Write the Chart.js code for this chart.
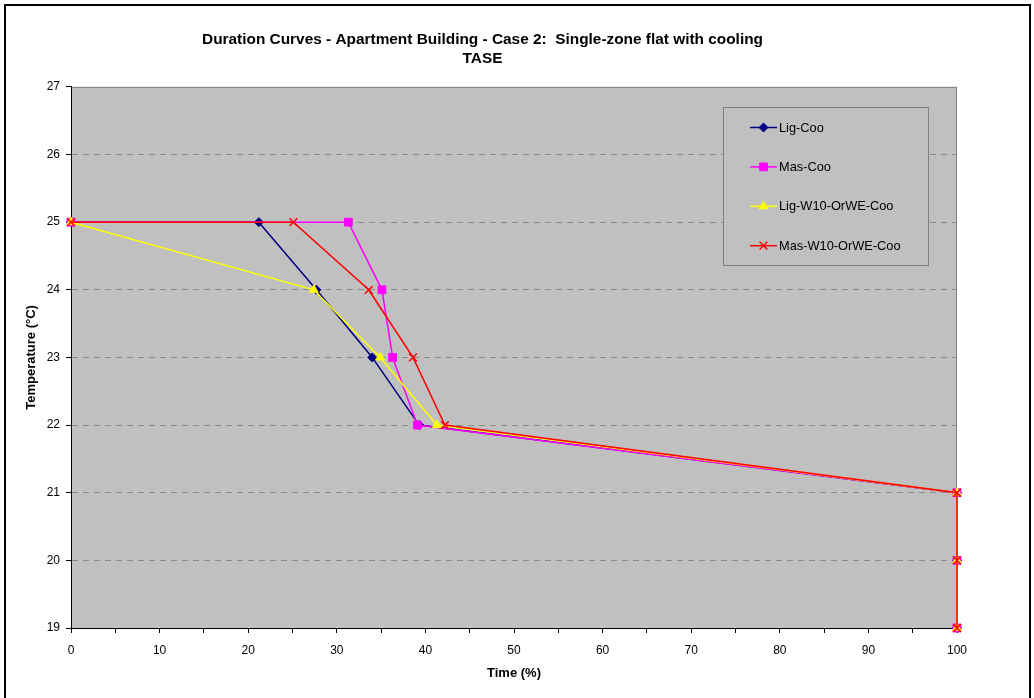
<!DOCTYPE html>
<html>
<head>
<meta charset="utf-8">
<title>Duration Curves - Apartment Building - Case 2</title>
<script src="https://cdn.jsdelivr.net/npm/chart.js@4.4.1/dist/chart.umd.min.js"></script>
<style>
  html, body { margin: 0; padding: 0; background: #fff; }
  #wrap { width: 1034px; height: 698px; position: relative; }
</style>
</head>
<body>
<div id="wrap"><canvas id="chart" width="1034" height="698"></canvas></div>
<script>
// duration curves
const SERIES_NAMES = ['Lig-Coo', 'Mas-Coo', 'Lig-W10-OrWE-Coo', 'Mas-W10-OrWE-Coo'];

const ligCooTime = [0, 21.2, 27.7, 34.0, 39.3, 100, 100, 100];
const ligCooTemp = [25, 25, 24, 23, 22, 21, 20, 19];

const masCooTime = [0, 31.3, 35.1, 36.3, 39.1, 100, 100, 100];
const masCooTemp = [25, 25, 24, 23, 22, 21, 20, 19];

const ligW10Time = [0, 27.4, 34.9, 41.3, 100, 100, 100];
const ligW10Temp = [25, 24, 23, 22, 21, 20, 19];

const masW10Time = [0, 25.1, 33.6, 38.6, 42.2, 100, 100, 100];
const masW10Temp = [25, 25, 24, 23, 22, 21, 20, 19];

const X_TICKS = [0, 10, 20, 30, 40, 50, 60, 70, 80, 90, 100];
const Y_TICKS = [19, 20, 21, 22, 23, 24, 25, 26, 27];

const FONT = "'Liberation Sans', Arial, sans-serif";
const pts = (xs, ys) => xs.map((x, i) => ({ x, y: ys[i] }));

// Excel-style look: grey plot area and a black frame round the whole chart
const plotBg = {
  id: 'plotBg',
  beforeDraw(chart) {
    const { ctx, chartArea: a } = chart;
    ctx.save();
    ctx.fillStyle = '#fff';
    ctx.fillRect(0, 0, chart.width, chart.height);
    ctx.strokeStyle = '#000';
    ctx.lineWidth = 2;
    ctx.strokeRect(5, 5, chart.width - 9, chart.height + 10);
    ctx.fillStyle = '#c0c0c0';
    ctx.fillRect(a.left, a.top, a.right - a.left, a.bottom - a.top);
    ctx.strokeStyle = '#808080';
    ctx.lineWidth = 1;
    ctx.strokeRect(a.left + 0.5, a.top + 0.5, a.right - a.left - 1, a.bottom - a.top);
    ctx.restore();
  }
};

// legend box sitting inside the plot, top right
const boxLegend = {
  id: 'boxLegend',
  afterDraw(chart) {
    const { ctx } = chart;
    const x0 = 723, y0 = 107, w = 205, h = 158;
    ctx.save();
    ctx.fillStyle = '#c0c0c0';
    ctx.fillRect(x0, y0, w, h);
    ctx.strokeStyle = '#808080';
    ctx.lineWidth = 1;
    ctx.strokeRect(x0 + 0.5, y0 + 0.5, w, h);
    ctx.font = '12.8px ' + FONT;
    ctx.textBaseline = 'middle';
    chart.data.datasets.forEach((ds, i) => {
      const y = 127.5 + i * 39.4;
      ctx.strokeStyle = ds.borderColor;
      ctx.lineWidth = 1.5;
      ctx.beginPath(); ctx.moveTo(750, y); ctx.lineTo(777, y); ctx.stroke();
      ctx.fillStyle = ds.pointBackgroundColor;
      ctx.strokeStyle = ds.pointBorderColor;
      ctx.lineWidth = ds.pointBorderWidth;
      Chart.helpers.drawPoint(ctx, {
        pointStyle: ds.pointStyle, radius: ds.pointRadius, rotation: 0,
        borderWidth: ds.pointBorderWidth
      }, 763.5, y);
      ctx.fillStyle = '#000';
      ctx.fillText(ds.label, 779, y + 0.5);
    });
    ctx.restore();
  }
};

function series(label, data, color, style, radius, order) {
  return {
    label, data, order, clip: false,
    borderColor: color, backgroundColor: color,
    pointBackgroundColor: color, pointBorderColor: color,
    pointStyle: style, pointRadius: radius, pointHoverRadius: radius,
    pointBorderWidth: style === 'crossRot' ? 1.5 : 1,
    borderWidth: 1.5, showLine: true, tension: 0, fill: false
  };
}

new Chart(document.getElementById('chart'), {
  type: 'scatter',
  data: {
    datasets: [
      series(SERIES_NAMES[0], pts(ligCooTime, ligCooTemp), '#000080', 'rectRot', 4.5, 4),
      series(SERIES_NAMES[1], pts(masCooTime, masCooTemp), '#ff00ff', 'rect', 5.5, 3),
      series(SERIES_NAMES[2], pts(ligW10Time, ligW10Temp), '#ffff00', 'triangle', 5, 2),
      series(SERIES_NAMES[3], pts(masW10Time, masW10Temp), '#ff0000', 'crossRot', 5.5, 1)
    ]
  },
  options: {
    responsive: false,
    animation: false,
    layout: { padding: { left: 8, right: 77, top: 0, bottom: 10 } },
    plugins: {
      legend: { display: false },
      tooltip: { enabled: false },
      title: {
        display: true,
        text: ['Duration Curves - Apartment Building - Case 2:  Single-zone flat with cooling', 'TASE'],
        color: '#000',
        font: { family: FONT, size: 15.4, weight: 'bold', lineHeight: 1.23 },
        padding: { top: 30.5, bottom: 18.5 }
      }
    },
    scales: {
      x: {
        type: 'linear', min: 0, max: 100,
        afterFit: s => { s.height = 60; },
        afterBuildTicks: s => { s.ticks = X_TICKS.flatMap(v => v < 100 ? [{ value: v }, { value: v + 5 }] : [{ value: v }]); },
        ticks: {
          color: '#000', font: { family: FONT, size: 12 }, padding: 10,
          maxRotation: 0, autoSkip: false,
          callback: v => (X_TICKS.includes(v) ? v : '')
        },
        grid: { drawOnChartArea: false, color: '#000', tickLength: 5 },
        border: { color: '#000', width: 1 },
        title: {
          display: true, text: 'Time (%)', color: '#000',
          font: { family: FONT, size: 13, weight: 'bold' },
          padding: { top: 4, bottom: 7 }
        }
      },
      y: {
        type: 'linear', min: 19, max: 27,
        afterFit: s => { s.width = 63; },
        afterBuildTicks: s => { s.ticks = Y_TICKS.map(v => ({ value: v })); },
        ticks: { color: '#000', font: { family: FONT, size: 12 }, padding: 6 },
        grid: {
          color: c => (c.tick && (c.tick.value === 27 || c.tick.value === 19) ? 'rgba(0,0,0,0)' : '#8c8c8c'),
          tickColor: '#000', tickLength: 5, tickBorderDash: []
        },
        border: { color: '#000', width: 1, dash: [6, 5] },
        title: {
          display: true, text: 'Temperature (°C)', color: '#000',
          font: { family: FONT, size: 13, weight: 'bold' },
          padding: { top: 16, bottom: 4 }
        }
      }
    }
  },
  plugins: [plotBg, boxLegend]
});
</script>
</body>
</html>
